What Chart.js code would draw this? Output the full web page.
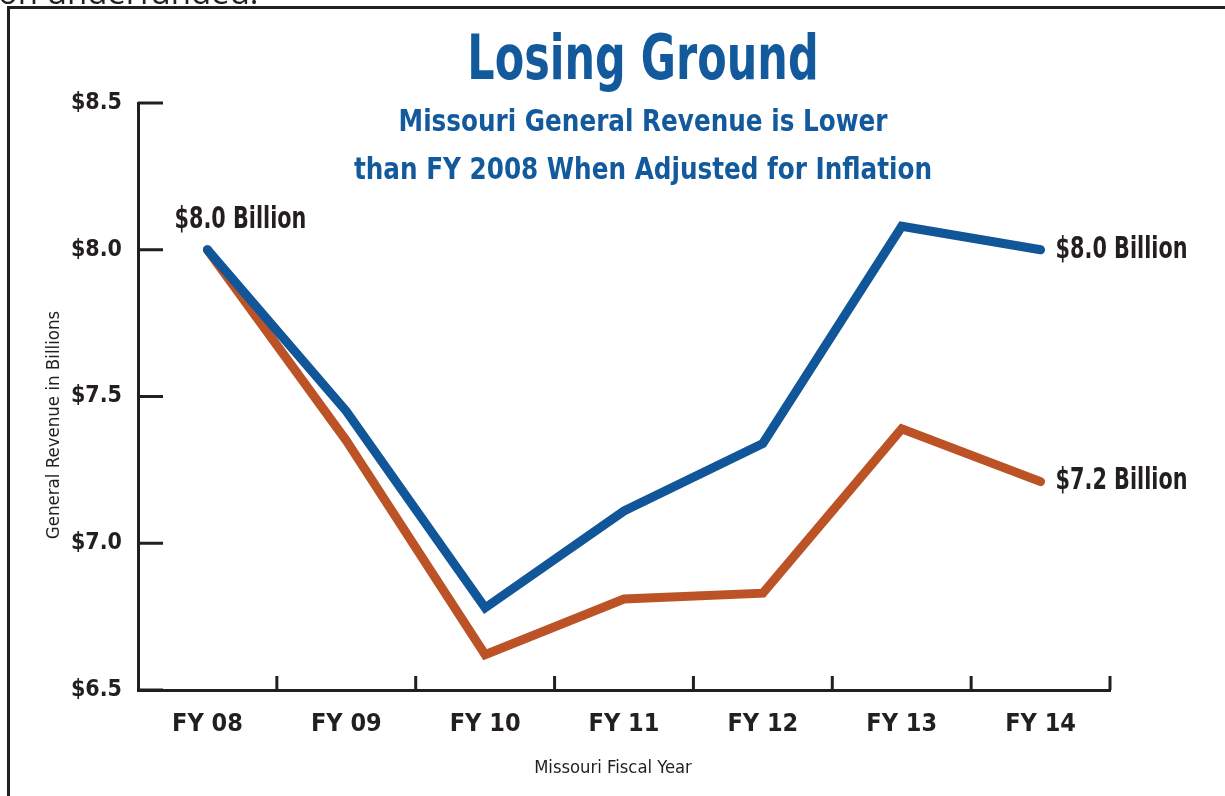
<!DOCTYPE html>
<html>
<head>
<meta charset="utf-8">
<script src="https://cdn.jsdelivr.net/npm/chart.js@4.4.1/dist/chart.umd.min.js"></script>
<style>
    body { margin: 0; background: #fff; overflow: hidden; }
    #wrap { position: relative; width: 1225px; height: 796px; }
    #frame { position: absolute; left: 7px; top: 6px; right: -10px; bottom: -10px;
             border-left: 3px solid #231f20; border-top: 3px solid #231f20; }
    .cond { font-family: "DejaVu Sans Condensed", "DejaVu Sans", sans-serif; font-stretch: condensed; }
    .txt { position: absolute; white-space: nowrap; }
    #above { left: -2px; top: -24px; font-family: "Open Sans", sans-serif; font-size: 33px; line-height: 32px; color: #231f20; }
    #title { left: 643px; top: 21px; transform: translateX(-50%) scaleX(0.77); font-size: 62px; font-weight: bold; color: #135a9c; }
    #sub { left: 643px; top: 97px; transform: translateX(-50%) scaleX(0.915); text-align: center; font-size: 30px; font-weight: bold; color: #135a9c; line-height: 48px; }
    #ytitle { left: 52px; top: 425px; transform: translate(-50%, -50%) rotate(-90deg); font-size: 18.5px; color: #231f20; }
    #xtitle { left: 613px; top: 766px; transform: translate(-50%, -50%); font-size: 18.3px; color: #231f20; }
    canvas { position: absolute; left: 0; top: 0; }
</style>
</head>
<body>
<div id="wrap">
    <canvas id="chart" width="1225" height="796"></canvas>
    <div id="frame"></div>
    <div id="above" class="txt">on underfunded.</div>
    <div id="title" class="txt cond">Losing Ground</div>
    <div id="sub" class="txt cond">Missouri General Revenue is Lower<br>than FY 2008 When Adjusted for Inflation</div>
    <div id="ytitle" class="txt cond">General Revenue in Billions</div>
    <div id="xtitle" class="txt cond">Missouri Fiscal Year</div>
</div>
<script>
const years = ["FY 08", "FY 09", "FY 10", "FY 11", "FY 12", "FY 13", "FY 14"];
const nominal = [8.0, 7.45, 6.78, 7.11, 7.34, 8.08, 8.0];
const adjusted = [8.0, 7.35, 6.62, 6.81, 6.83, 7.39, 7.21];
const yTicks = [6.5, 7.0, 7.5, 8.0, 8.5];

const font = '"DejaVu Sans Condensed", "DejaVu Sans", sans-serif';
const ink = "#231f20";

// squeezed text, to get close to the narrow bold face of the original
function narrowText(ctx, text, x, y, align, squeeze) {
    ctx.save();
    ctx.translate(x, y);
    ctx.scale(squeeze, 1);
    ctx.textAlign = align;
    ctx.fillText(text, 0, 0);
    ctx.restore();
}

// inward tick marks + value labels
const extras = {
    id: "extras",
    afterDatasetsDraw(chart) {
        const ctx = chart.ctx;
        const x = chart.scales.x, y = chart.scales.y;
        const area = chart.chartArea;
        ctx.save();
        ctx.strokeStyle = ink;
        ctx.lineWidth = 3;
        ctx.beginPath();
        yTicks.forEach(v => {
            const py = y.getPixelForValue(v);
            ctx.moveTo(area.left, py);
            ctx.lineTo(area.left + 25, py);
        });
        const half = (x.getPixelForValue(1) - x.getPixelForValue(0)) / 2;
        years.forEach((_, i) => {
            const px = x.getPixelForValue(i) + half;
            ctx.moveTo(px, area.bottom);
            ctx.lineTo(px, area.bottom - 14);
        });
        ctx.stroke();

        // labels
        ctx.fillStyle = ink;
        ctx.font = "bold 30px " + font;
        const last = years.length - 1;
        const p0 = chart.getDatasetMeta(0).data[0];
        ctx.textBaseline = "alphabetic";
        narrowText(ctx, "$" + nominal[0].toFixed(1) + " Billion", p0.x + 33, p0.y - 22, "center", 0.77);
        ctx.textBaseline = "middle";
        [0, 1].forEach(d => {
            const p = chart.getDatasetMeta(d).data[last];
            const v = chart.data.datasets[d].data[last];
            narrowText(ctx, "$" + v.toFixed(1) + " Billion", p.x + 15, p.y, "left", 0.77);
        });
        ctx.restore();
    }
};

new Chart(document.getElementById("chart"), {
    type: "line",
    data: {
        labels: years,
        datasets: [
            { label: "Nominal", data: nominal, borderColor: "#115699", borderWidth: 9,
              borderCapStyle: "round", pointRadius: 0, tension: 0, fill: false },
            { label: "Adjusted", data: adjusted, borderColor: "#bc5327", borderWidth: 9,
              borderCapStyle: "round", pointRadius: 0, tension: 0, fill: false }
        ]
    },
    options: {
        responsive: false,
        animation: false,
        layout: { padding: { top: 103, right: 115, left: 0, bottom: 0 } },
        plugins: { legend: { display: false }, tooltip: { enabled: false } },
        scales: {
            x: {
                offset: true,
                grid: { display: false, drawTicks: false },
                border: { display: true, width: 3, color: ink },
                ticks: { color: ink, font: { family: font, size: 25, weight: "bold" }, padding: 19 },
                afterFit: s => { s.height = 106; }
            },
            y: {
                min: 6.5, max: 8.5,
                grid: { display: false, drawTicks: false },
                border: { display: true, width: 3, color: ink },
                ticks: { stepSize: 0.5, color: ink, padding: 16,
                         font: { family: font, size: 23, weight: "bold" },
                         callback: v => "$" + v.toFixed(1) },
                afterFit: s => { s.width = 138; }
            }
        }
    },
    plugins: [extras]
});
</script>
</body>
</html>
